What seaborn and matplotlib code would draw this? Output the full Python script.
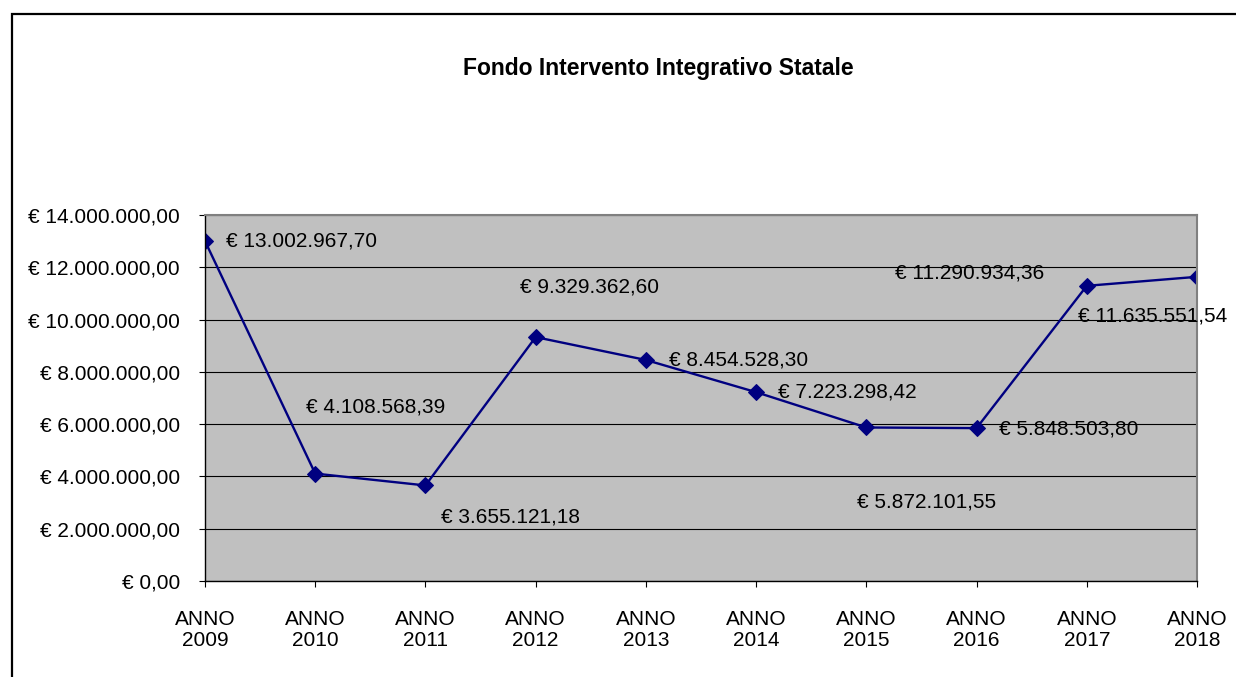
import numpy as np
import pandas as pd
import seaborn as sns
import matplotlib.pyplot as plt
from matplotlib.patches import Rectangle
from matplotlib.ticker import FuncFormatter, MultipleLocator

years = ['ANNO\n2009', 'ANNO\n2010', 'ANNO\n2011', 'ANNO\n2012', 'ANNO\n2013',
         'ANNO\n2014', 'ANNO\n2015', 'ANNO\n2016', 'ANNO\n2017', 'ANNO\n2018']
fondo = [13002967.70, 4108568.39, 3655121.18, 9329362.60, 8454528.30,
         7223298.42, 5872101.55, 5848503.80, 11290934.36, 11635551.54]
# label offsets (points)
label_dx = [15, -7, 11, -11, 16.5, 16, -7, 16.5, -138, -86]
label_dy = [0, 48, -23, 36, 0, 0, -54, -1, 9, -28]

def euro(v):
    s = f'{v:,.2f}'.replace(',', 'X').replace('.', ',').replace('X', '.')
    return '€ ' + s

df = pd.DataFrame({'anno': years, 'fondo': fondo})

sns.set_style('white')
plt.rcParams['font.family'] = ['Liberation Sans', 'DejaVu Sans']
plt.rcParams['text.color'] = 'black'
plt.rcParams['xtick.color'] = 'black'
plt.rcParams['ytick.color'] = 'black'

fs = 15

fig = plt.figure(figsize=(12.36, 6.77), dpi=100)
ax = fig.add_axes([205/1236, 96/677, 992/1236, 366/677])
ax.set_facecolor('#C0C0C0')

sns.lineplot(data=df, x='anno', y='fondo', ax=ax, color='#000080', linewidth=1.7,
             marker='D', markersize=8.5, markeredgecolor='#000080', sort=False)

for i, (x, v) in enumerate(zip(years, fondo)):
    ax.annotate(euro(v), (i, v), xytext=(label_dx[i], label_dy[i]),
                textcoords='offset points', fontsize=fs, va='center', ha='left',
                color='black', annotation_clip=False)

ax.set_xlim(0, len(years) - 1)
ax.set_ylim(0, 14000000)
ax.yaxis.set_major_locator(MultipleLocator(2000000))
ax.yaxis.set_major_formatter(FuncFormatter(lambda v, p: euro(v)))
ax.grid(axis='y', color='black', linewidth=0.8)
ax.set_axisbelow(True)
ax.set_xlabel('')
ax.set_ylabel('')
ax.tick_params(axis='both', direction='out', length=4, width=0.8, color='black',
               labelsize=fs, left=True, bottom=True)
ax.tick_params(axis='y', pad=14)
ax.tick_params(axis='x', pad=17)
for lbl in ax.get_xticklabels():
    lbl.set_ha('center')
    lbl.set_multialignment('center')
    lbl.set_linespacing(1.1)
for s in ['left', 'bottom']:
    ax.spines[s].set_color('black')
    ax.spines[s].set_linewidth(1.0)
for s in ['top', 'right']:
    ax.spines[s].set_color('#808080')
    ax.spines[s].set_linewidth(1.5)

fig.text(658/1236, 1 - 69/677, 'Fondo Intervento Integrativo Statale',
         fontsize=16.5, fontweight='bold', ha='center', va='center')

fig.patches.append(Rectangle((12/1236, -0.1), 1.1, 1.1 - 14/677, transform=fig.transFigure,
                             fill=False, edgecolor='black', linewidth=1.6))

fig.savefig('out.png', dpi=100)
